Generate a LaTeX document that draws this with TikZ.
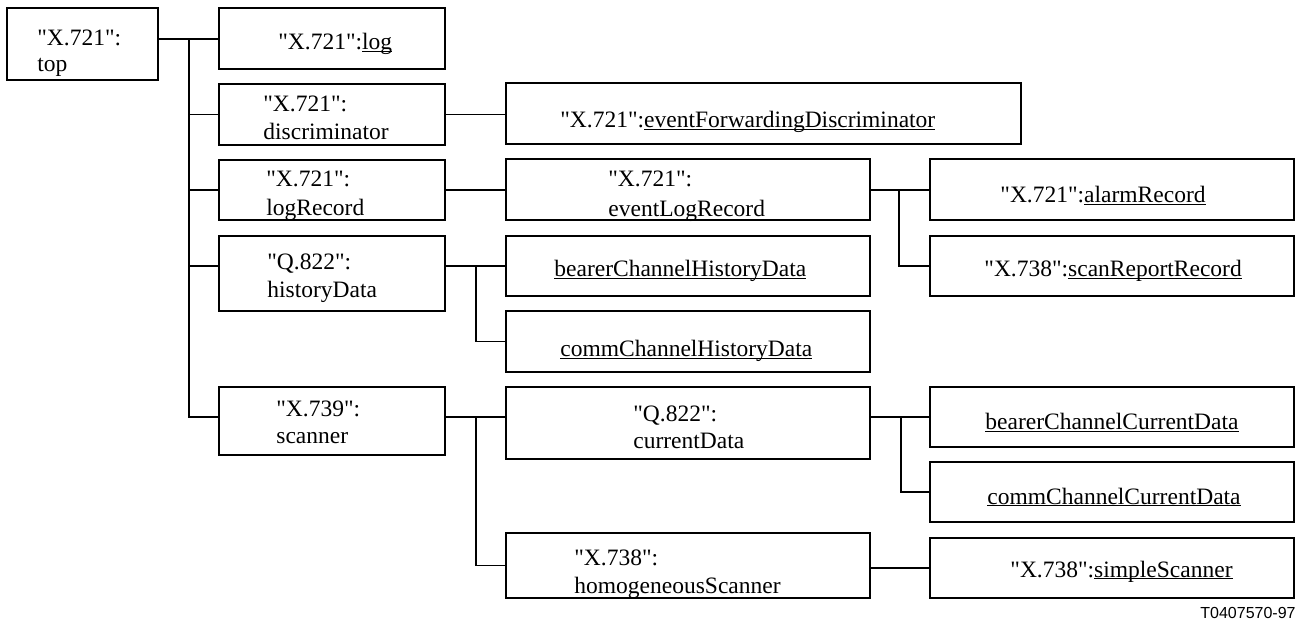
\documentclass[tikz,border=0pt]{standalone}
\usepackage{fontspec}
\setmainfont{Liberation Serif}[Ligatures=TeXOff]
\newfontfamily\labelfont{Liberation Sans}
\usetikzlibrary{fit}
% underline placed just below the baseline
\newcommand\ulword[1]{\setbox0\hbox{#1}\rlap{\rule[-1.2pt]{\wd0}{0.55pt}}\box0}
\begin{document}
\begin{tikzpicture}[x=0.5pt,y=-0.5pt,
  box/.style={draw, line width=0.75pt, inner sep=0pt},
  txt/.style={anchor=base west, inner sep=0pt, font=\fontsize{11.75pt}{14pt}\selectfont},
  wire/.style={line width=0.85pt}]
\useasboundingbox (0,0) rectangle (1300,624);

% class boxes
\node[box, fit={(7,8) (158,80)}] (top) {};
\node[box, fit={(219,8) (445,69)}] (log) {};
\node[box, fit={(219,84) (445,145)}] (disc) {};
\node[box, fit={(219,160) (445,220)}] (logrec) {};
\node[box, fit={(219,236) (445,311)}] (hist) {};
\node[box, fit={(219,387) (445,455)}] (scan) {};
\node[box, fit={(506,83) (1021,144)}] (efd) {};
\node[box, fit={(506,159) (870,220)}] (elr) {};
\node[box, fit={(930,159) (1294,220)}] (alarm) {};
\node[box, fit={(930,236) (1294,296)}] (srr) {};
\node[box, fit={(506,236) (870,296)}] (bchd) {};
\node[box, fit={(506,311) (870,372)}] (cchd) {};
\node[box, fit={(506,387) (870,459)}] (curr) {};
\node[box, fit={(506,533) (870,598)}] (homo) {};
\node[box, fit={(930,387) (1294,447)}] (bccd) {};
\node[box, fit={(930,462) (1294,522)}] (cccd) {};
\node[box, fit={(930,538) (1294,598)}] (simple) {};

% labels
\node[txt] (topA) at (37,46) {"X.721":};
\node[txt] (topB) at (37,72) {top};
\node[txt] (logA) at (278,50) {"X.721":\ulword{log}};
\node[txt] (discA) at (263,112) {"X.721":};
\node[txt] (discB) at (263,140) {discriminator};
\node[txt] (logrecA) at (266,187) {"X.721":};
\node[txt] (logrecB) at (266,216) {logRecord};
\node[txt] (histA) at (267,270) {"Q.822":};
\node[txt] (histB) at (267,298) {historyData};
\node[txt] (scanA) at (276,417) {"X.739":};
\node[txt] (scanB) at (276,444) {scanner};
\node[txt] (efdA) at (560,128) {"X.721":\ulword{eventForwardingDiscriminator}};
\node[txt] (elrA) at (608,187) {"X.721":};
\node[txt] (elrB) at (608,217) {eventLogRecord};
\node[txt] (alarmA) at (1000,203) {"X.721":\ulword{alarmRecord}};
\node[txt] (srrA) at (984,277) {"X.738":\ulword{scanReportRecord}};
\node[txt] (bchdA) at (554,277) {\ulword{bearerChannelHistoryData}};
\node[txt] (cchdA) at (560,357) {\ulword{commChannelHistoryData}};
\node[txt] (currA) at (633,422) {"Q.822":};
\node[txt] (currB) at (633,449) {currentData};
\node[txt] (homoA) at (574,565) {"X.738":};
\node[txt] (homoB) at (574,593) {homogeneousScanner};
\node[txt] (bccdA) at (985,430) {\ulword{bearerChannelCurrentData}};
\node[txt] (cccdA) at (987,504) {\ulword{commChannelCurrentData}};
\node[txt] (simpleA) at (1010,577) {"X.738":\ulword{simpleScanner}};
\node[anchor=base east, inner sep=0pt, font=\labelfont\fontsize{8pt}{9pt}\selectfont] (tag) at (1296,618) {T0407570-97};

% junction points of the tree
\coordinate (t0) at (189,39);
\coordinate (sj) at (476,417);
\coordinate (hj) at (476,266);
\coordinate (ej) at (899,190);
\coordinate (cj) at (901,417);

% top and its direct subclasses
\draw[wire] (top.east |- t0) -- (log.west |- t0);
\draw[wire] (t0) |- (disc.west);
\draw[wire] (t0) |- (logrec.west);
\draw[wire] (t0) |- (hist.west |- hj);
\draw[wire] (t0) |- (scan.west |- sj);

% discriminator
\draw[wire] (disc.east) -- (efd.west |- disc.east);

% logRecord
\draw[wire] (logrec.east) -- (elr.west |- logrec.east);
\draw[wire] (elr.east |- ej) -- (alarm.west |- ej);
\draw[wire] (ej) |- (srr.west);

% historyData
\draw[wire] (hist.east |- hj) -- (bchd.west |- hj);
\draw[wire] (hj) |- (cchd.west);

% scanner
\draw[wire] (scan.east |- sj) -- (curr.west |- sj);
\draw[wire] (sj) |- (homo.west);
\draw[wire] (curr.east |- cj) -- (bccd.west |- cj);
\draw[wire] (cj) |- (cccd.west);
\draw[wire] (homo.east |- simple.west) -- (simple.west);
\end{tikzpicture}
\end{document}
